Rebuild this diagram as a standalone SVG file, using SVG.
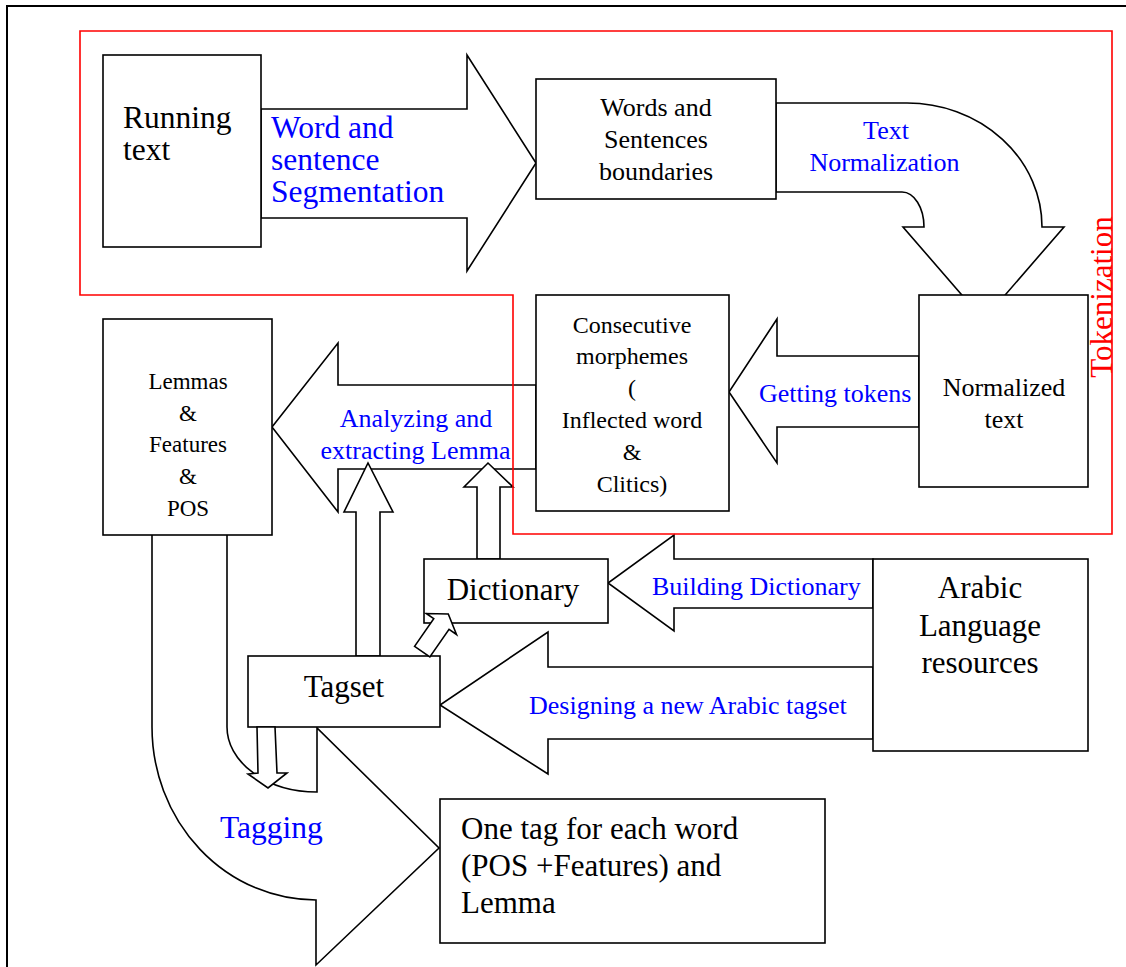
<svg xmlns="http://www.w3.org/2000/svg" width="1126" height="967" viewBox="0 0 1126 967">
  <style>
    .box { fill: #ffffff; stroke: #000000; stroke-width: 1.6; }
    .arrow { fill: #ffffff; stroke: #000000; stroke-width: 1.6; stroke-linejoin: miter; }
    .frame { fill: none; stroke: #000000; stroke-width: 2; }
    .zone { fill: none; stroke: #ff0000; stroke-width: 1.6; }
    text { font-family: "Liberation Serif", "Times New Roman", serif; }
    .lbl { fill: #000000; }
    .flow { fill: #0000ff; }
    .zlbl { fill: #ff0000; }
    .c { text-anchor: middle; }
  </style>

  <rect x="0" y="0" width="1126" height="967" fill="#ffffff"/>
  <!-- outer frame -->
  <path class="frame" d="M7,967 V6 H1126"/>

  <!-- block arrows -->
  <g id="connectors">
    <polygon id="seg-arrow" class="arrow" points="261,109 467,109 467,55 536,163 467,271 467,218 261,218"/>
    <path id="norm-arrow" class="arrow" d="M776,103 H907 A135,124 0 0 1 1042,227 H1064 L983.5,320 L903,227 H924 A22,35 0 0 0 902,192 H776 Z"/>
    <polygon id="tokens-arrow" class="arrow" points="919,356 777,356 777,319 729,392 777,463 777,427 919,427"/>
    <polygon id="lemma-arrow" class="arrow" points="536,385 338,385 338,343 272,427 338,512 338,469 536,469"/>
    <path id="tagging-arrow" class="arrow" d="M152,534 V727 A164,173 0 0 0 316,900 V965 L439,848 L317,728 V792 A90,65 0 0 1 227,727 V534 Z"/>
    <polygon id="dict-arrow" class="arrow" points="873,559 674,559 674,535 608,583 674,631 674,608 873,608"/>
    <polygon id="tagset-design-arrow" class="arrow" points="873,667 548,667 548,632 440,705 548,774 548,739 873,739"/>
  </g>

  <!-- nodes -->
  <g id="running-text">
    <rect class="box" x="103" y="55" width="158" height="192"/>
    <text class="lbl" x="123" y="128" font-size="31.5">Running</text>
    <text class="lbl" x="123" y="160" font-size="31.5">text</text>
  </g>

  <g id="boundaries">
    <rect class="box" x="536" y="79" width="240" height="120"/>
    <text class="lbl c" x="656" y="116" font-size="26">Words and</text>
    <text class="lbl c" x="656" y="148" font-size="26">Sentences</text>
    <text class="lbl c" x="656" y="180" font-size="26">boundaries</text>
  </g>

  <g id="normalized-text">
    <rect class="box" x="919" y="295" width="169" height="192"/>
    <text class="lbl c" x="1004" y="396" font-size="26">Normalized</text>
    <text class="lbl c" x="1004" y="428" font-size="26">text</text>
  </g>

  <g id="morphemes">
    <rect class="box" x="536" y="295" width="193" height="216"/>
    <text class="lbl c" x="632" y="333" font-size="24">Consecutive</text>
    <text class="lbl c" x="632" y="364" font-size="24">morphemes</text>
    <text class="lbl c" x="632" y="396" font-size="24">(</text>
    <text class="lbl c" x="632" y="428" font-size="24">Inflected word</text>
    <text class="lbl c" x="632" y="460" font-size="24">&amp;</text>
    <text class="lbl c" x="632" y="492" font-size="24">Clitics)</text>
  </g>

  <g id="lemmas">
    <rect class="box" x="103" y="319" width="169" height="216"/>
    <text class="lbl c" x="188" y="389" font-size="23">Lemmas</text>
    <text class="lbl c" x="188" y="421" font-size="23">&amp;</text>
    <text class="lbl c" x="188" y="452" font-size="23">Features</text>
    <text class="lbl c" x="188" y="484" font-size="23">&amp;</text>
    <text class="lbl c" x="188" y="516" font-size="23">POS</text>
  </g>

  <g id="up-arrows">
    <polygon class="arrow" points="356,656 356,512 344,512 368,463 393,512 380,512 380,656"/>
    <polygon class="arrow" points="477,559 477,487 464,487 488,463 513,487 500,487 500,559"/>
  </g>

  <g id="dictionary">
    <rect class="box" x="424" y="559" width="184" height="64"/>
    <text class="lbl c" x="513" y="600" font-size="31">Dictionary</text>
  </g>

  <g id="arabic-resources">
    <rect class="box" x="873" y="559" width="215" height="192"/>
    <text class="lbl c" x="980" y="598" font-size="31">Arabic</text>
    <text class="lbl c" x="980" y="636" font-size="31">Language</text>
    <text class="lbl c" x="980" y="673" font-size="31">resources</text>
  </g>

  <g id="tagset">
    <rect class="box" x="248" y="656" width="192" height="71"/>
    <text class="lbl c" x="344" y="697" font-size="31">Tagset</text>
  </g>

  <g id="small-arrows">
    <polygon class="arrow" transform="translate(422.2,651.7) rotate(-55.3)" points="0,-9.3 33.7,-9.3 33.7,-18.4 45.8,0 33.7,18.4 33.7,9.3 0,9.3"/>
    <polygon class="arrow" points="257,727 258,773 248,774 268,788 287,773 277,773 275,727"/>
  </g>

  <g id="tag-output">
    <rect class="box" x="440" y="799" width="385" height="144"/>
    <text class="lbl" x="461" y="839" font-size="31">One tag for each word</text>
    <text class="lbl" x="461" y="876" font-size="31">(POS +Features) and</text>
    <text class="lbl" x="461" y="913" font-size="31">Lemma</text>
  </g>

  <!-- arrow labels -->
  <g id="flow-labels">
    <text class="flow" x="271" y="138" font-size="31.5">Word and</text>
    <text class="flow" x="271" y="170" font-size="31.5">sentence</text>
    <text class="flow" x="271" y="202" font-size="31.5">Segmentation</text>
    <text class="flow c" x="886" y="139" font-size="26">Text</text>
    <text class="flow c" x="884.5" y="171" font-size="26">Normalization</text>
    <text class="flow" x="759" y="402" font-size="26">Getting tokens</text>
    <text class="flow c" x="416" y="427" font-size="26">Analyzing and</text>
    <text class="flow c" x="415.5" y="459" font-size="26">extracting Lemma</text>
    <text class="flow" x="652" y="595" font-size="26">Building Dictionary</text>
    <text class="flow" x="529" y="714" font-size="26">Designing a new Arabic tagset</text>
    <text class="flow" x="220" y="838" font-size="31.5">Tagging</text>
  </g>

  <!-- tokenization zone -->
  <g id="tokenization">
    <polygon class="zone" points="80,31 1112,31 1112,534 513,534 513,295 80,295"/>
    <text class="zlbl c" transform="translate(1112,297) rotate(-90)" x="0" y="0" font-size="31">Tokenization</text>
  </g>
</svg>
